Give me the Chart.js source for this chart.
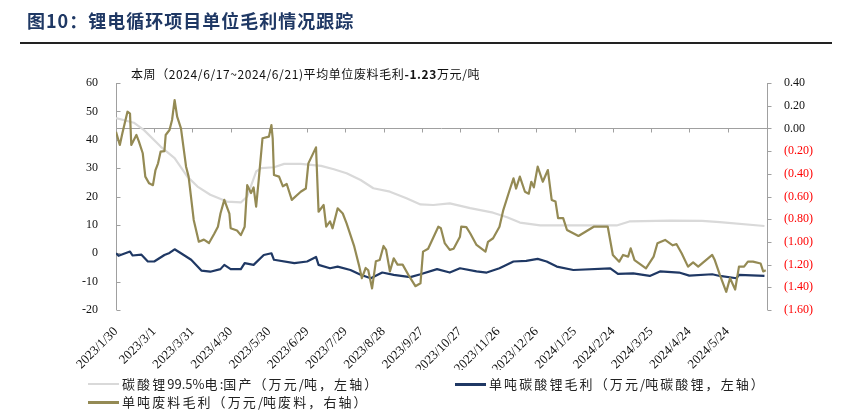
<!DOCTYPE html>
<html><head><meta charset="utf-8">
<script src="https://cdn.jsdelivr.net/npm/chart.js@4"></script>
<style>
html,body{margin:0;padding:0;background:#fff;}
#wrap{position:relative;width:857px;height:412px;overflow:hidden;font-family:"Noto Sans CJK SC",sans-serif;}
#title{position:absolute;left:27px;top:7px;font-size:18px;font-weight:bold;color:#1F3864;white-space:nowrap;line-height:26px;letter-spacing:1px;}
#rule{position:absolute;left:20px;top:42px;width:812px;height:2px;background:#222;}
#note{position:absolute;left:131px;top:65px;font-size:12px;color:#111;white-space:nowrap;line-height:18px;letter-spacing:0.6px;}
#note b{font-weight:bold;}
canvas{position:absolute;left:0;top:0;}
.leg{position:absolute;font-size:13px;color:#222;white-space:nowrap;display:flex;align-items:center;line-height:18px;letter-spacing:2.1px;}
.leg span{letter-spacing:0;}
.leg i{display:inline-block;width:31px;height:3px;margin-right:3px;}
</style></head>
<body><div id="wrap">
<canvas id="c" width="857" height="412" style="width:857px;height:412px"></canvas>
<div id="title">图10：锂电循环项目单位毛利情况跟踪</div>
<div id="rule"></div>
<div id="note">本周（2024/6/17~2024/6/21)平均单位废料毛利<b>-1.23</b>万元/吨</div>
<div class="leg" style="left:88px;top:375px"><i style="background:#D9D9D9;height:2px"></i>碳酸锂<span>99.5%</span>电<span>:</span>国产（万元<span>/</span>吨，左轴）</div>
<div class="leg" style="left:455px;top:375px"><i style="background:#1F3864"></i>单吨碳酸锂毛利（万元<span>/</span>吨碳酸锂，左轴）</div>
<div class="leg" style="left:88px;top:393px"><i style="background:#948A54"></i>单吨废料毛利（万元<span>/</span>吨废料，右轴）</div>
</div>
<script>
// x tick labels (every 30 days)
const tickLabels = ['2023/1/30','2023/3/1','2023/3/31','2023/4/30','2023/5/30','2023/6/29','2023/7/29','2023/8/28','2023/9/27','2023/10/27','2023/11/26','2023/12/26','2024/1/25','2024/2/24','2024/3/25','2024/4/24','2024/5/24'];
const lastDay = 511; // ~2024/6/24, end of x axis

// 碳酸锂99.5%电:国产 (万元/吨, left axis): day offset from 2023/1/30, value
const lithiumDays  = [0,14,22,35,46,56,64,74,87,98,103,110,114,124,132,145,161,171,181,192,202,215,228,239,249,262,278,296,307,317,333,393,403,435,460,474,509];
const lithiumPrice = [47.6,46,43.4,37.6,33.5,27,23.5,20.6,18.2,17.9,20,28.8,30,30.3,31.5,31.5,30.8,29.6,28.2,25.8,22.9,21.7,19.4,17.2,17,17.6,15.9,14.3,12.7,10.8,9.8,9.8,11.2,11.5,11.4,11,9.6];

// 单吨碳酸锂毛利 (万元/吨碳酸锂, left axis)
const marginDays   = [0,2,11,13,20,25,30,38,42,46,51,59,67,74,82,85,90,98,101,108,116,122,124,140,150,157,159,168,174,184,192,200,209,218,231,239,252,262,270,283,291,301,312,322,331,338,346,359,388,394,406,419,427,442,450,468,474,487,489,509];
const marginValues = [0,-0.9,0.6,-0.8,-0.5,-2.9,-2.9,-0.6,0.1,1.4,0,-2.3,-6.1,-6.5,-5.6,-4.1,-5.6,-5.6,-3.5,-4.1,-0.6,0,-2.3,-3.5,-2.9,-1.3,-4.1,-5.3,-4.7,-5.9,-7.6,-8.8,-6.8,-7.6,-8.4,-7.4,-5.6,-6.8,-5.3,-6.4,-6.8,-5.3,-2.9,-2.7,-2.0,-2.9,-4.7,-5.9,-5.3,-7.3,-7.1,-8.0,-6.4,-6.8,-7.9,-7.4,-8.0,-8.8,-7.6,-8.0];

// 单吨废料毛利 (万元/吨废料, right axis)
const scrapDays   = [0,3,5,9,11,12,16,18,21,23,26,29,31,33,35,38,39,42,44,46,48,51,55,57,61,65,69,73,77,80,82,85,89,90,95,98,101,103,106,108,110,112,115,120,122,123,124,128,131,134,138,145,149,151,157,159,163,165,168,170,174,178,181,187,191,193,196,198,201,204,207,210,212,215,218,221,225,230,235,239,241,245,253,255,258,262,265,270,271,275,278,283,290,292,296,301,304,309,312,314,317,321,324,326,328,331,335,339,342,345,347,351,354,363,375,386,390,395,398,402,404,407,416,422,425,431,437,440,444,449,453,457,468,470,474,479,482,486,489,493,496,500,506,508,510];
const scrapValues = [-0.03,-0.146,-0.043,0.147,0.13,-0.146,-0.058,-0.117,-0.219,-0.425,-0.484,-0.5,-0.367,-0.308,-0.205,-0.2,-0.058,-0.014,0.074,0.25,0.103,0.0,-0.337,-0.425,-0.807,-0.998,-0.98,-1.01,-0.93,-0.866,-0.75,-0.63,-0.75,-0.88,-0.9,-0.94,-0.866,-0.5,-0.57,-0.52,-0.69,-0.455,-0.087,-0.073,0.03,-0.087,-0.41,-0.425,-0.51,-0.49,-0.63,-0.558,-0.53,-0.308,-0.167,-0.734,-0.675,-0.866,-0.82,-0.88,-0.704,-0.75,-0.836,-1.04,-1.218,-1.32,-1.23,-1.25,-1.41,-1.17,-1.16,-1.036,-1.07,-1.26,-1.145,-1.2,-1.2,-1.3,-1.39,-1.365,-1.086,-1.06,-0.866,-0.88,-1.01,-1.07,-1.06,-0.954,-0.866,-0.87,-0.924,-1.027,-1.086,-1.0,-0.968,-0.866,-0.72,-0.543,-0.44,-0.53,-0.425,-0.558,-0.575,-0.47,-0.52,-0.337,-0.47,-0.367,-0.63,-0.645,-0.79,-0.79,-0.895,-0.948,-0.866,-0.866,-1.115,-1.174,-1.115,-1.13,-1.056,-1.16,-1.233,-1.13,-1.012,-0.983,-1.03,-1.02,-1.1,-1.218,-1.18,-1.218,-1.115,-1.16,-1.29,-1.44,-1.32,-1.42,-1.218,-1.218,-1.174,-1.174,-1.19,-1.26,-1.25];

const startUTC = Date.UTC(2023,0,30);
const tickDays = tickLabels.map(s => { const [Y,M,D] = s.split('/').map(Number); return Math.round((Date.UTC(Y,M-1,D)-startUTC)/86400000); });
const pts = (xs, ys) => xs.map((d,i)=>({x:d,y:ys[i]}));

const axisDecor = {
  id:'axisDecor',
  beforeDatasetsDraw(chart){
    const {ctx, chartArea:a, scales:{x,y,y1}} = chart;
    ctx.save();
    ctx.strokeStyle='#A0A0A0'; ctx.lineWidth=1;
    ctx.beginPath();
    const y0 = Math.round(y1.getPixelForValue(0))+0.5;
    ctx.moveTo(a.left,y0); ctx.lineTo(a.right,y0);
    tickDays.forEach(d=>{const px=Math.round(x.getPixelForValue(d))+0.5; ctx.moveTo(px,y0); ctx.lineTo(px,y0+4);});
    const lx = Math.round(a.left)+0.5;
    ctx.moveTo(lx,a.top); ctx.lineTo(lx,a.bottom);
    y.ticks.forEach(t=>{const py=Math.round(y.getPixelForValue(t.value))+0.5; ctx.moveTo(lx,py); ctx.lineTo(lx+4,py);});
    const rx = Math.round(a.right)+0.5;
    ctx.moveTo(rx,a.top); ctx.lineTo(rx,a.bottom);
    y1.ticks.forEach(t=>{const py=Math.round(y1.getPixelForValue(t.value))+0.5; ctx.moveTo(rx,py); ctx.lineTo(rx+4,py);});
    ctx.stroke();
    ctx.restore();
  }
};

const numFont = {family:'"Liberation Serif", "Times New Roman", serif', size:12};
const xFont = {family:'"Liberation Serif", "Times New Roman", serif', size:13};
new Chart(document.getElementById('c'), {
  type:'line',
  data:{datasets:[
    {label:'单吨废料毛利（万元/吨废料，右轴）', data:pts(scrapDays,scrapValues), yAxisID:'y1', borderColor:'#948A54', borderWidth:2.2, order:0},
    {label:'单吨碳酸锂毛利（万元/吨碳酸锂，左轴）', data:pts(marginDays,marginValues), yAxisID:'y', borderColor:'#1F3864', borderWidth:2.2, order:1},
    {label:'碳酸锂99.5%电:国产（万元/吨，左轴）', data:pts(lithiumDays,lithiumPrice), yAxisID:'y', borderColor:'#D9D9D9', borderWidth:2.2, order:2}
  ]},
  options:{
    responsive:false, animation:false, devicePixelRatio:1,
    elements:{point:{radius:0}, line:{tension:0, borderJoinStyle:'round'}},
    layout:{padding:{left:71, right:40, top:83, bottom:42}},
    plugins:{legend:{display:false}, tooltip:{enabled:false}},
    scales:{
      x:{type:'linear', min:0, max:lastDay, position:'bottom',
        grid:{display:false}, border:{display:false},
        afterBuildTicks:s=>{ s.ticks = tickDays.map(v=>({value:v})); },
        afterFit:s=>{ s.height = 60; },
        ticks:{autoSkip:false, minRotation:45, maxRotation:45, padding:6, color:'#111', font:xFont,
          callback:(v)=>{ const i = tickDays.indexOf(v); return i>=0 ? tickLabels[i] : ''; }}
      },
      y:{position:'left', min:-20, max:60, grid:{display:false}, border:{display:false},
        afterFit:s=>{ s.width = 45; },
        ticks:{stepSize:10, padding:10, color:'#111', font:numFont}
      },
      y1:{position:'right', min:-1.6, max:0.4, grid:{display:false}, border:{display:false},
        afterFit:s=>{ s.width = 50; },
        ticks:{stepSize:0.2, padding:9, font:numFont,
          color:c=> c.tick && c.tick.value < -1e-9 ? '#FF0000' : '#111',
          callback:v=> Math.abs(v)<1e-9 ? '0.00' : (v<0 ? '('+Math.abs(v).toFixed(2)+')' : v.toFixed(2))}
      }
    }
  },
  plugins:[axisDecor]
});
</script>
</body></html>
